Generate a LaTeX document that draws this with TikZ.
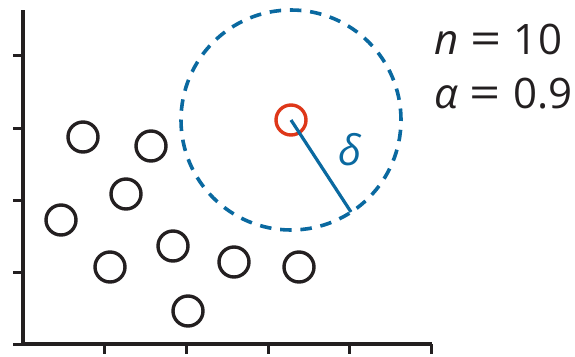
\documentclass[tikz,border=0pt]{standalone}
\usepackage{fontspec}
\setmainfont{Open Sans}
\definecolor{axisblack}{RGB}{35,31,32}
\definecolor{dblue}{RGB}{10,105,160}
\definecolor{dred}{RGB}{222,55,25}
\newcommand{\wideeq}{\hspace{0.28em}\scalebox{1.3}[1.05]{=}\hspace{0.3em}}
\begin{document}
\begin{tikzpicture}[x=1pt,y=-1pt,
  pt/.style={circle,draw=axisblack,line width=3.4pt,minimum size=30pt,inner sep=0pt},
  axisline/.style={draw=axisblack,line width=3.5pt},
  tickline/.style={draw=axisblack,line width=3pt},
  lbl/.style={font=\fontsize{42}{46}\selectfont,text=axisblack,inner sep=0pt,anchor=base west}]
\useasboundingbox (0,0) rectangle (575,356);
% axes
\coordinate (ytop) at (23,10);
\coordinate (orig) at (23,344);
\coordinate (xend) at (432,344);
\draw[axisline] (ytop) -- (orig) -- (xend);
\foreach \x in {104,186,268,349,431} {\draw[tickline] (\x,344) -- (\x,354);}
\foreach \y in {55,128,200,272,344} {\draw[tickline] (13,\y) -- (23,\y);}
% points
\node[pt] (p1) at (83,137) {};
\node[pt] (p2) at (151,146) {};
\node[pt] (p3) at (126,194) {};
\node[pt] (p4) at (61,220) {};
\node[pt] (p5) at (110,267) {};
\node[pt] (p6) at (173,246) {};
\node[pt] (p7) at (188,311) {};
\node[pt] (p8) at (234,262) {};
\node[pt] (p9) at (299,267) {};
% query point and neighbourhood
\node[circle,draw=dred,line width=3.4pt,minimum size=30pt,inner sep=0pt] (q) at (291,120) {};
\node[circle,draw=dblue,line width=3.6pt,dash pattern=on 11.5pt off 8.8pt,minimum size=220pt,inner sep=0pt] (nb) at (291,120) {};
\coordinate (rend) at (351,212);
\draw[dblue,line width=3.2pt] (q.center) -- (rend);
\node[font=\fontsize{42}{46}\selectfont\itshape,text=dblue,inner sep=0pt] (delta) at (350,150) {δ};
% labels
\node[lbl] (nlab) at (434,54) {{\itshape n}\wideeq 10};
\node[lbl] (alab) at (434,108) {{\itshape α}\wideeq 0.9};
\end{tikzpicture}
\end{document}
